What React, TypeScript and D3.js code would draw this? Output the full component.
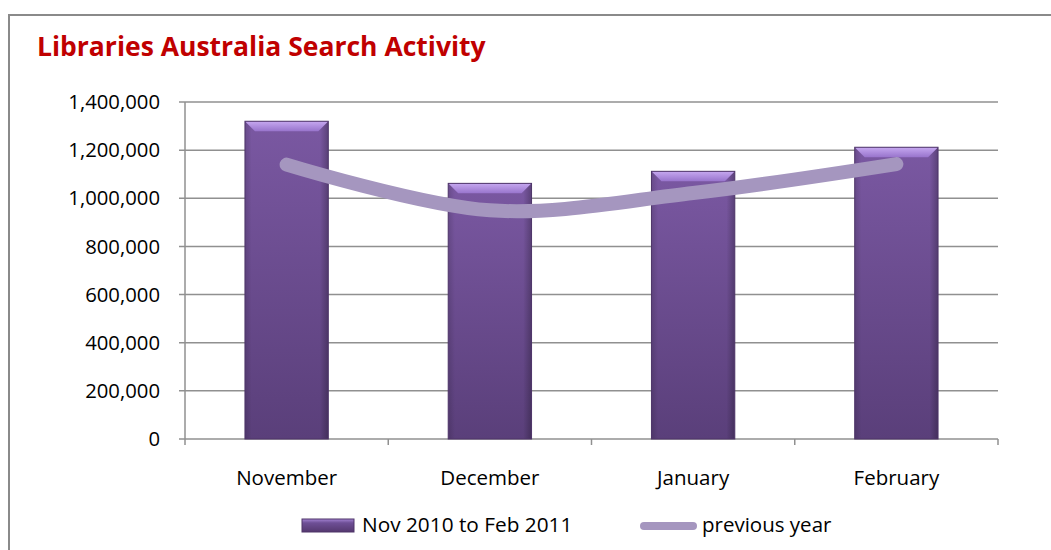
import React from "react";
import * as d3 from "d3";

const categories = ["November", "December", "January", "February"];
const currentValues = [1320000, 1062000, 1112000, 1212000];
const previousValues = [1140000, 950000, 1022000, 1142000];
const yTicks = [0, 200000, 400000, 600000, 800000, 1000000, 1200000, 1400000];
const title = "Libraries Australia Search Activity";
const seriesNames = ["Nov 2010 to Feb 2011", "previous year"];

const W = 1051;
const H = 550;
const M = { left: 185, right: 998, top: 102, bottom: 439 };
const FONT = "'Open Sans', 'Liberation Sans', sans-serif";

export default function App() {
  const x = d3
    .scaleBand<string>()
    .domain(categories)
    .range([M.left, M.right])
    .paddingInner(0.59)
    .paddingOuter(0.295);
  const xb = d3.scaleBand<string>().domain(categories).range([M.left, M.right]);
  const y = d3.scaleLinear().domain([0, 1400000]).range([M.bottom, M.top]);
  const fmt = d3.format(",");

  const line = d3
    .line<number>()
    .x((_, i) => (xb(categories[i]) as number) + xb.bandwidth() / 2)
    .y((v) => y(v))
    .curve(d3.curveCatmullRom.alpha(0.5));

  const boundaries = [...categories.map((c) => xb(c) as number), M.right];
  const bw = x.bandwidth();

  return (
    <svg
      width={W}
      height={H}
      style={{ position: "absolute", left: 0, top: 0, display: "block", background: "#fff" }}
    >
      <defs>
        <linearGradient id="barV" x1="0" y1="0" x2="0" y2="1">
          <stop offset="0" stopColor="#7a58a2" />
          <stop offset="1" stopColor="#5a3f7a" />
        </linearGradient>
        <linearGradient id="barH" x1="0" y1="0" x2="1" y2="0">
          <stop offset="0" stopColor="#000" stopOpacity="0.14" />
          <stop offset="0.08" stopColor="#000" stopOpacity="0" />
          <stop offset="0.9" stopColor="#000" stopOpacity="0" />
          <stop offset="1" stopColor="#000" stopOpacity="0.25" />
        </linearGradient>
        <linearGradient id="bevel" x1="0" y1="0" x2="0" y2="1">
          <stop offset="0" stopColor="#c6a8f0" />
          <stop offset="1" stopColor="#9874cc" />
        </linearGradient>
        <linearGradient id="legSw" x1="0" y1="0" x2="0" y2="1">
          <stop offset="0" stopColor="#a484d4" />
          <stop offset="0.3" stopColor="#6e4f96" />
          <stop offset="1" stopColor="#54386f" />
        </linearGradient>
      </defs>

      <rect x={9} y={15} width={W + 20} height={H + 20} fill="none" stroke="#8a8a8a" strokeWidth={2} />

      <text x={37} y={56} fill="#c00000" fontFamily={FONT} fontWeight="bold" fontSize={26.5}>
        {title}
      </text>

      {yTicks.map((t) => (
        <g key={t}>
          <line x1={M.left - 6} x2={M.right} y1={y(t)} y2={y(t)} stroke="#909090" strokeWidth={1.5} />
          <text
            x={160}
            y={y(t)}
            dy="0.35em"
            textAnchor="end"
            fontFamily={FONT}
            fontSize={20.3}
            fill="#000"
          >
            {fmt(t)}
          </text>
        </g>
      ))}
      <line x1={M.left} x2={M.left} y1={M.top} y2={M.bottom} stroke="#909090" strokeWidth={1.5} />
      {boundaries.map((b, i) => (
        <line key={i} x1={b} x2={b} y1={M.bottom} y2={M.bottom + 6} stroke="#909090" strokeWidth={1.5} />
      ))}

      {categories.map((c, i) => {
        const bx = x(c) as number;
        const by = y(currentValues[i]);
        const bh = M.bottom - by;
        const bev = 10;
        return (
          <g key={c}>
            <rect x={bx} y={by} width={bw} height={bh} fill="url(#barV)" />
            <rect x={bx} y={by} width={bw} height={bh} fill="url(#barH)" />
            <polygon
              points={`${bx},${by} ${bx + bw},${by} ${bx + bw - bev},${by + bev} ${bx + bev},${by + bev}`}
              fill="url(#bevel)"
            />
            <rect x={bx} y={by} width={bw} height={bh} fill="none" stroke="#4e3569" strokeWidth={1} />
          </g>
        );
      })}

      <path
        d={line(previousValues) || ""}
        fill="none"
        stroke="#a596bf"
        strokeWidth={14}
        strokeLinecap="round"
        strokeLinejoin="round"
      />

      {categories.map((c) => (
        <text
          key={c}
          x={(xb(c) as number) + xb.bandwidth() / 2}
          y={485}
          textAnchor="middle"
          fontFamily={FONT}
          fontSize={20.5}
          fill="#000"
        >
          {c}
        </text>
      ))}

      <rect x={302} y={519} width={52} height={13} fill="url(#legSw)" stroke="#4e3569" strokeWidth={1} />
      <text x={362} y={532} fontFamily={FONT} fontSize={20.8} fill="#000">
        {seriesNames[0]}
      </text>
      <line x1={644} x2={693} y1={526} y2={526} stroke="#a596bf" strokeWidth={8} strokeLinecap="round" />
      <text x={702} y={532} fontFamily={FONT} fontSize={20.5} fill="#000">
        {seriesNames[1]}
      </text>
    </svg>
  );
}
